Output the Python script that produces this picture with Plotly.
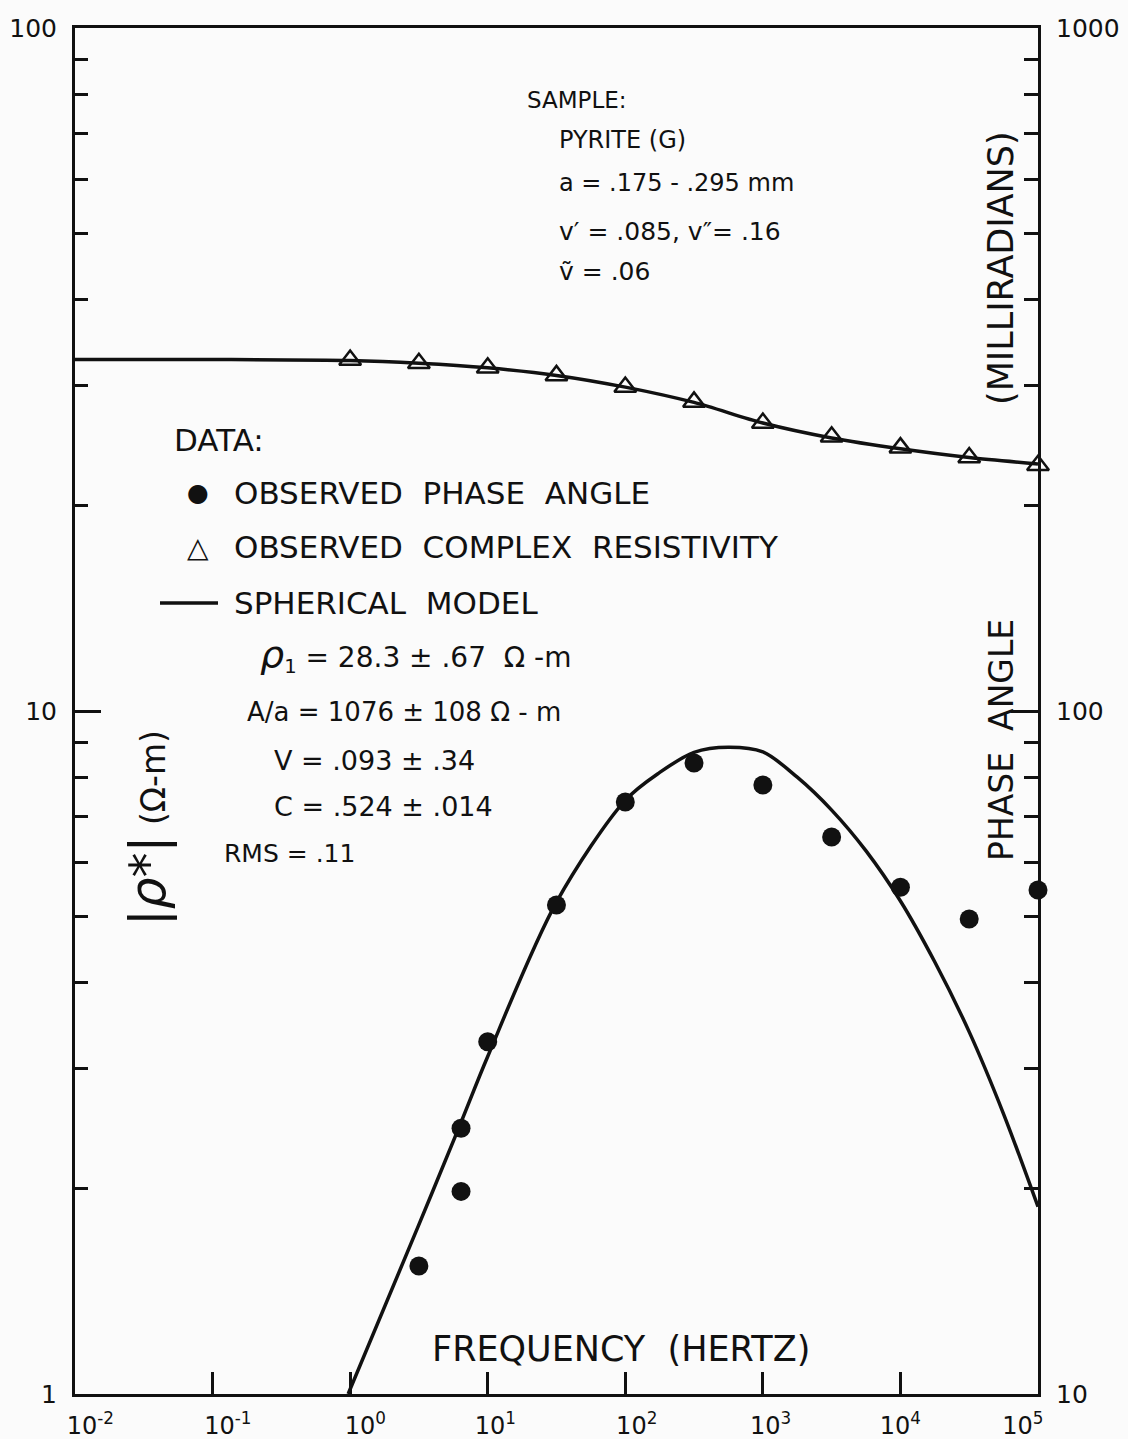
import plotly.graph_objects as go

# ---------------- data ----------------
freq_rho_model = [0.01, 0.1, 1, 3.16, 10, 31.6, 100, 316, 1000, 3162, 10000, 31623, 100000]
rho_model = [32.7, 32.7, 32.6, 32.3, 31.8, 31.0, 29.8, 28.3, 26.4, 25.1, 24.2, 23.5, 23.0]

freq_rho_obs = [1, 3.16, 10, 31.6, 100, 316, 1000, 3162, 10000, 31623, 100000]
rho_obs = [32.65, 32.3, 31.8, 31.0, 29.8, 28.35, 26.4, 25.2, 24.3, 23.5, 22.9]

freq_phase_obs = [3.16, 6.4, 6.4, 10, 31.6, 100, 316, 1000, 3162, 10000, 31623, 100000]
phase_obs = [15.4, 24.5, 19.8, 32.8, 52.0, 73.6, 83.9, 77.9, 65.4, 55.2, 49.6, 54.7]

freq_phase_model = [0.967, 3.16, 6.3, 10, 31.6, 100, 178, 316, 562, 1000, 1778,
                    3162, 5623, 10000, 17783, 31623, 56234, 100000]
phase_model = [10.0, 17.7, 24.8, 31.2, 52.5, 74.0, 81.3, 87.0, 88.5, 87.1, 80.0,
               71.6, 62.4, 52.7, 42.9, 33.9, 25.7, 18.8]

NB = "\u00a0"
x_tickvals = [0.01, 0.1, 1, 10, 100, 1000, 10000, 100000]
x_ticktext = [NB * 4 + "10<sup>-2</sup>", NB * 4 + "10<sup>-1</sup>", NB * 4 + "10<sup>0</sup>",
              NB * 2 + "10<sup>1</sup>", NB * 3 + "10<sup>2</sup>", NB * 2 + "10<sup>3</sup>",
              "10<sup>4</sup>", "10<sup>5</sup>" + NB * 4]
yl_tickvals = [1, 10, 100]
yl_ticktext = ["1", "10", "100"]
yr_tickvals = [10, 100, 1000]
yr_ticktext = ["10", "100", "1000"]
yl_minor = [2, 3, 4, 5, 6, 7, 8, 9, 20, 30, 40, 50, 60, 70, 80, 90]
yr_minor = [20, 30, 40, 50, 60, 70, 80, 90, 200, 300, 400, 500, 600, 700, 800, 900]

FONT = "DejaVu Sans"
INK = "#111111"

W, H = 1128, 1439
L, R, T, B = 75, 90, 28, 45


def px(x):
    return (x - L) / (W - L - R)


def py(y):
    return (H - B - y) / (H - T - B)


fig = go.Figure()

fig.add_trace(go.Scatter(x=freq_rho_model, y=rho_model, mode="lines",
                         line=dict(color=INK, width=3.5, shape="spline", smoothing=0.8),
                         yaxis="y", showlegend=False, cliponaxis=False))
fig.add_trace(go.Scatter(x=freq_rho_obs, y=rho_obs, mode="markers",
                         marker=dict(symbol="triangle-up-open", size=19, color=INK,
                                     line=dict(width=2.5, color=INK)),
                         yaxis="y", showlegend=False, cliponaxis=False))
fig.add_trace(go.Scatter(x=freq_phase_model, y=phase_model, mode="lines",
                         line=dict(color=INK, width=3.5, shape="spline", smoothing=0.9),
                         yaxis="y2", showlegend=False))
fig.add_trace(go.Scatter(x=freq_phase_obs, y=phase_obs, mode="markers",
                         marker=dict(symbol="circle", size=19, color=INK),
                         yaxis="y2", showlegend=False, cliponaxis=False))

texts = [
    ("SAMPLE:", 525, 100, 23),
    ("PYRITE (G)", 557, 140, 24),
    ("a = .175 - .295 mm", 557, 183, 24),
    ("v\u2032 = .085, v\u2033= .16", 557, 232, 25),
    ("\u1e7d = .06", 557, 272, 25),
    ("DATA:", 172, 440, 31),
    ("OBSERVED\u00a0 PHASE\u00a0 ANGLE", 232, 493, 31),
    ("OBSERVED\u00a0 COMPLEX\u00a0 RESISTIVITY", 232, 547, 31),
    ("SPHERICAL\u00a0 MODEL", 232, 603, 31),
    ("<span style='font-size:38px'><i>\u03c1</i></span><sub>1</sub> = 28.3 \u00b1 .67\u00a0 \u03a9 -m", 258, 655, 28),
    ("A/a = 1076 \u00b1 108 \u03a9 - m", 245, 712, 26),
    ("V = .093 \u00b1 .34", 272, 760, 27),
    ("C = .524 \u00b1 .014", 272, 806, 27),
    ("RMS = .11", 222, 853, 25),
    ("FREQUENCY\u00a0 (HERTZ)", 430, 1349, 35),
]
annotations = []
for t, x, y, s in texts:
    annotations.append(dict(text=t, x=px(x), y=py(y), xref="paper", yref="paper",
                            xanchor="left", yanchor="middle", showarrow=False,
                            font=dict(family=FONT, size=s, color=INK)))

# legend glyphs
annotations.append(dict(text="\u25cf", x=px(198), y=py(493), xref="paper", yref="paper",
                        xanchor="center", yanchor="middle", showarrow=False,
                        font=dict(family=FONT, size=25, color=INK)))
annotations.append(dict(text="\u25b3", x=px(198), y=py(547), xref="paper", yref="paper",
                        xanchor="center", yanchor="middle", showarrow=False,
                        font=dict(family=FONT, size=28, color=INK)))

# axis titles
annotations.append(dict(text="<span style='font-size:50px'>|<i>\u03c1</i>*|</span> (\u03a9-m)",
                        x=px(148), y=py(828), xref="paper", yref="paper",
                        xanchor="center", yanchor="middle", textangle=-90, showarrow=False,
                        font=dict(family=FONT, size=33, color=INK)))
annotations.append(dict(text="PHASE\u00a0 ANGLE", x=px(1001), y=py(740), xref="paper", yref="paper",
                        xanchor="center", yanchor="middle", textangle=-90, showarrow=False,
                        font=dict(family=FONT, size=33, color=INK)))
annotations.append(dict(text="(MILLIRADIANS)", x=px(1001), y=py(268), xref="paper", yref="paper",
                        xanchor="center", yanchor="middle", textangle=-90, showarrow=False,
                        font=dict(family=FONT, size=35, color=INK)))

shapes = [dict(type="line", xref="paper", yref="paper", x0=px(160), x1=px(218),
               y0=py(603), y1=py(603), line=dict(color=INK, width=3.5))]

fig.update_layout(
    width=W, height=H,
    margin=dict(l=L, r=R, t=T, b=B, pad=0, autoexpand=False),
    paper_bgcolor="#fbfbfb", plot_bgcolor="#fbfbfb",
    font=dict(family=FONT, color=INK),
    annotations=annotations, shapes=shapes,
    xaxis=dict(type="log", range=[-2, 5], tickmode="array", tickvals=x_tickvals,
               ticktext=x_ticktext, ticks="inside", ticklen=22, tickwidth=2.5,
               tickcolor=INK, showline=True, linewidth=3, linecolor=INK, mirror=True,
               showgrid=False, zeroline=False, tickfont=dict(size=24, family=FONT, color=INK),
               ticklabelstandoff=8, automargin=False),
    yaxis=dict(type="log", range=[0, 2], tickmode="array", tickvals=yl_tickvals,
               ticktext=yl_ticktext, ticks="inside", ticklen=26, tickwidth=3,
               tickcolor=INK, showline=True, linewidth=3, linecolor=INK,
               showgrid=False, zeroline=False, tickfont=dict(size=25, family=FONT, color=INK),
               ticklabelstandoff=10, automargin=False,
               minor=dict(tickmode="array", tickvals=yl_minor, ticks="inside",
                          ticklen=13, tickwidth=3, tickcolor=INK, showgrid=False)),
    yaxis2=dict(type="log", range=[1, 3], overlaying="y", side="right", tickmode="array",
                tickvals=yr_tickvals, ticktext=yr_ticktext, ticks="inside", ticklen=27,
                tickwidth=3, tickcolor=INK, showline=True, linewidth=3, linecolor=INK,
                showgrid=False, zeroline=False, tickfont=dict(size=25, family=FONT, color=INK),
                ticklabelstandoff=10, automargin=False,
                minor=dict(tickmode="array", tickvals=yr_minor, ticks="inside",
                           ticklen=14, tickwidth=3, tickcolor=INK, showgrid=False)),
)

fig.write_html("out.html")
